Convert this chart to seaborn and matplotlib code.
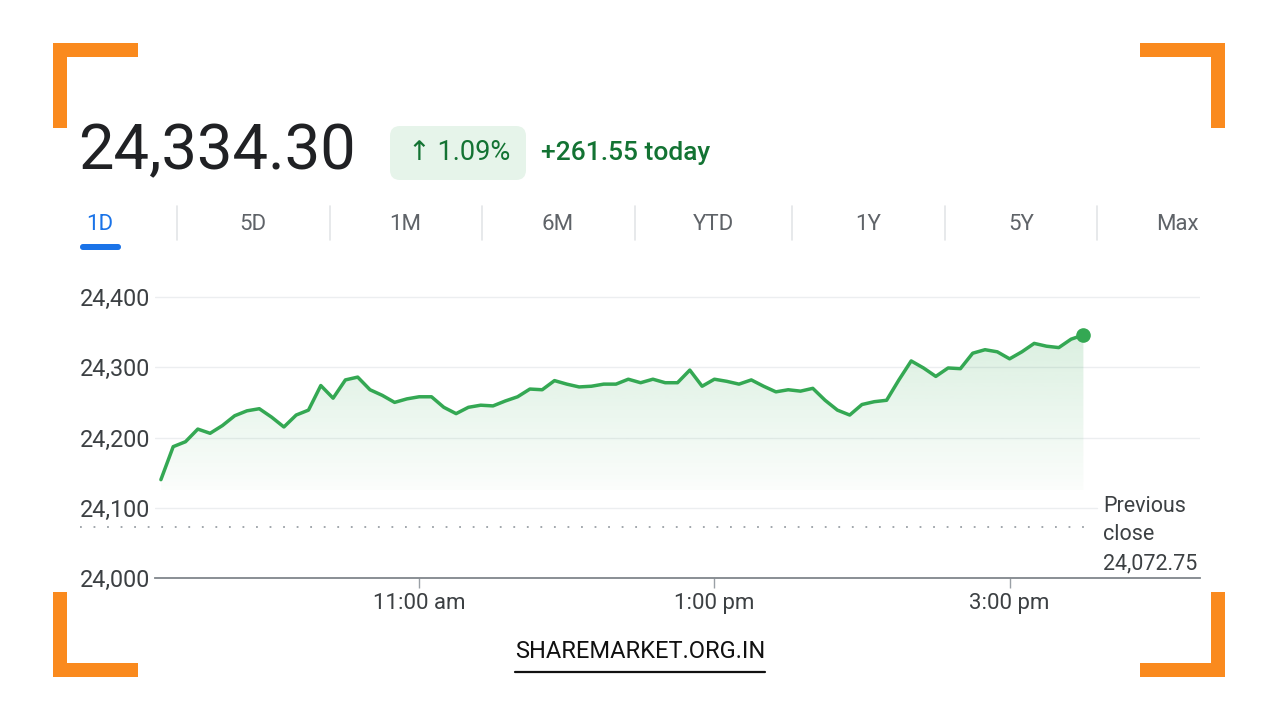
import numpy as np
import pandas as pd
import matplotlib
matplotlib.use("Agg")
import matplotlib.pyplot as plt
import seaborn as sns
from matplotlib.patches import Rectangle, FancyBboxPatch
from matplotlib import transforms

# ---------------- data ----------------
minutes = list(range(555, 931, 5))  # 9:15 am .. 3:30 pm, 5-minute steps
prices = [
    24140, 24187, 24194, 24212, 24206, 24217, 24231, 24238, 24241, 24229,
    24215, 24232, 24239, 24274, 24256, 24282, 24286, 24268, 24260, 24250,
    24255, 24258, 24258, 24243, 24234, 24243, 24246, 24245, 24252, 24258,
    24269, 24268, 24281, 24276, 24272, 24273, 24276, 24276, 24283, 24278,
    24283, 24278, 24278, 24296, 24273, 24283, 24280, 24276, 24282, 24273,
    24265, 24268, 24266, 24270, 24253, 24239, 24232, 24247, 24251, 24253,
    24282, 24309, 24299, 24287, 24299, 24298, 24320, 24325, 24322, 24312,
    24322, 24334, 24330, 24328, 24340, 24346,
]
prev_close = 24072.75
last_price = 24334.30
change_pct = 1.09
change_abs = 261.55
y_ticks = [24000, 24100, 24200, 24300, 24400]
y_labels = ["24,000", "24,100", "24,200", "24,300", "24,400"]
x_ticks = [660, 780, 900]
x_labels = ["11:00 am", "1:00 pm", "3:00 pm"]
tabs = ["1D", "5D", "1M", "6M", "YTD", "1Y", "5Y", "Max"]
watermark = "SHAREMARKET.ORG.IN"

# ---------------- style ----------------
sns.set_theme(style="white")
plt.rcParams["font.family"] = ["Roboto", "DejaVu Sans"]

GREEN = "#34A853"
DARK_GREEN = "#137333"
ORANGE = "#FA8A1E"
GREY_TXT = "#3c4043"

W, H = 1280, 720
fig = plt.figure(figsize=(12.8, 7.2), dpi=100)
fig.patch.set_facecolor("white")

# decoration layer in pixel coordinates
bg = fig.add_axes([0, 0, 1, 1], zorder=0)
bg.set_xlim(0, W)
bg.set_ylim(H, 0)
bg.axis("off")

# orange corner brackets
for (x, y, w, h) in [
    (53, 43, 85, 14), (53, 43, 14, 85),
    (1140, 43, 85, 14), (1211, 43, 14, 85),
    (53, 592, 14, 85), (53, 663, 85, 14),
    (1211, 592, 14, 85), (1140, 663, 85, 14),
]:
    bg.add_patch(Rectangle((x, y), w, h, color=ORANGE, lw=0))

# header
bg.text(78, 152, f"{last_price:,.2f}", fontsize=45.5, color="#202124",
        va="center", ha="left")
bg.add_patch(FancyBboxPatch((390, 126), 136, 54,
                            boxstyle="round,pad=0,rounding_size=10",
                            fc="#e6f4ea", ec="none"))
bg.text(459, 153, f"↑ {change_pct:.2f}%", fontsize=19.5, color=DARK_GREEN,
        va="center", ha="center", family=["Roboto", "DejaVu Sans"])
bg.text(541, 153, f"+{change_abs:.2f} today", fontsize=19, color=DARK_GREEN,
        va="center", ha="left", fontweight="medium")

# range tabs
tab_x = [100, 253, 405, 558, 713, 868, 1021, 1177]
sep_x = [177, 330, 482, 635, 792, 945, 1097]
for i, (t, tx) in enumerate(zip(tabs, tab_x)):
    bg.text(tx, 225, t, fontsize=16, ha="center", va="center",
            color="#1a73e8" if i == 0 else "#5f6368")
for sx in sep_x:
    bg.plot([sx, sx], [206, 240], color="#e3e5e8", lw=1.2)
bg.add_patch(FancyBboxPatch((80, 244), 41, 6,
                            boxstyle="round,pad=0,rounding_size=3",
                            fc="#1a73e8", ec="none"))

# watermark
bg.text(640, 652, watermark, fontsize=17, ha="center", va="center", color="#111111")
bg.plot([515, 765], [672, 672], color="#111111", lw=1.6)

# ---------------- chart ----------------
ax_left, ax_right, ax_top, ax_bottom = 155, 1200, 290, 578
ax = fig.add_axes([ax_left / W, 1 - ax_bottom / H,
                   (ax_right - ax_left) / W, (ax_bottom - ax_top) / H], zorder=1)
ax.set_facecolor("none")

df = pd.DataFrame({"minute": minutes, "price": prices})

# gradient area under the line
base = 24125
fill = ax.fill_between(df["minute"], df["price"], base, color="none", lw=0)
grad = np.zeros((256, 1, 4))
rgb = matplotlib.colors.to_rgb(GREEN)
grad[..., 0], grad[..., 1], grad[..., 2] = rgb
grad[:, 0, 3] = np.linspace(0.18, 0.02, 256)
im = ax.imshow(grad, extent=[min(minutes), max(minutes), base, max(prices)],
               aspect="auto", origin="upper", zorder=1, interpolation="bilinear")
im.set_clip_path(fill.get_paths()[0], transform=ax.transData)

sns.lineplot(data=df, x="minute", y="price", ax=ax, color=GREEN,
             linewidth=2.5, zorder=3)
ax.plot([minutes[-1]], [prices[-1]], "o", color=GREEN, markersize=9.5, zorder=4)

# previous close dotted line (extends left under the tick labels)
blend = transforms.blended_transform_factory(fig.transFigure, ax.transData)
ax.plot([80 / W, 1095 / W], [prev_close, prev_close], transform=blend,
        color="#9aa0a6", lw=1.3, linestyle=(0, (1, 6.5)), clip_on=False, zorder=2)

# gridlines stop before the "Previous close" label
for yt in y_ticks[1:]:
    ax.plot([ax_left / W, 1097 / W if yt == 24100 else ax_right / W], [yt, yt],
            transform=blend, color="#eceef0", lw=1, zorder=0)

# previous close label
for ty, s in zip([507, 535, 564], ["Previous", "close", f"{prev_close:,.2f}"]):
    bg.text(1103, ty, s, fontsize=15.5, ha="left", va="center", color=GREY_TXT)

ax.set_xlim(552.6, 977.4)
ax.set_ylim(24000, 24410)

ax.set_yticks(y_ticks)
ax.set_yticklabels(y_labels)
ax.tick_params(axis="y", length=0, pad=54, labelsize=16.8, labelcolor=GREY_TXT)
for lab in ax.get_yticklabels():
    lab.set_horizontalalignment("left")

ax.set_xticks(x_ticks)
ax.set_xticklabels(x_labels)
ax.tick_params(axis="x", direction="out", length=7, width=1, color="#9aa0a6",
               pad=4, labelsize=16, labelcolor=GREY_TXT, bottom=True)

for s in ["top", "right", "left"]:
    ax.spines[s].set_visible(False)
ax.spines["bottom"].set_color("#80868b")
ax.spines["bottom"].set_linewidth(1.3)
ax.set_xlabel("")
ax.set_ylabel("")

fig.savefig("out.png", dpi=100, facecolor="white")
